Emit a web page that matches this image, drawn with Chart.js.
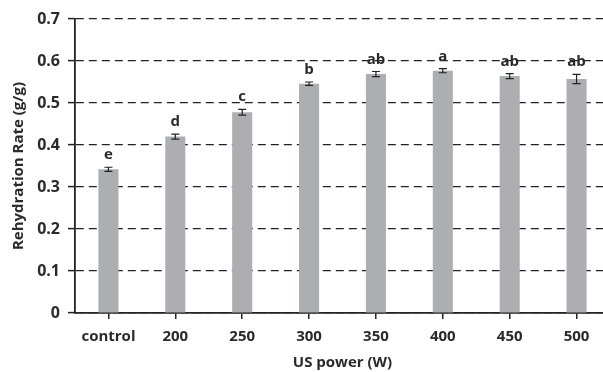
<!DOCTYPE html>
<html><head><meta charset="utf-8">
<script src="https://cdn.jsdelivr.net/npm/chart.js@4/dist/chart.umd.min.js"></script>
<style>html,body{margin:0;padding:0;background:#fff;overflow:hidden;width:603px;height:372px}#wrap{width:612px;height:372px;position:relative}</style>
</head><body><div id="wrap"><canvas id="c" width="612" height="372"></canvas></div>
<script>
const categories = ["control","200","250","300","350","400","450","500"];
const rehydration = [0.342,0.420,0.478,0.546,0.569,0.577,0.564,0.557];
const errors = [0.005,0.006,0.007,0.004,0.006,0.005,0.006,0.011];
const letters = ["e","d","c","b","ab","a","ab","ab"];
const yTicks = [0,0.1,0.2,0.3,0.4,0.5,0.6,0.7];

const FONT = "'Open Sans', 'DejaVu Sans', sans-serif";
const TXT = "#2a2a2a";

const errPlugin = {
  id: 'errLetters',
  afterDatasetsDraw(chart) {
    const ctx = chart.ctx, x = chart.scales.x, y = chart.scales.y;
    ctx.save();
    rehydration.forEach((v, i) => {
      const cx = x.getPixelForValue(i);
      const top = y.getPixelForValue(v + errors[i]);
      const bot = y.getPixelForValue(v - errors[i]);
      ctx.strokeStyle = "#222"; ctx.lineWidth = 1.2;
      ctx.beginPath();
      ctx.moveTo(cx, top); ctx.lineTo(cx, bot);
      ctx.moveTo(cx - 4, top); ctx.lineTo(cx + 4, top);
      ctx.moveTo(cx - 4, bot); ctx.lineTo(cx + 4, bot);
      ctx.stroke();
      ctx.fillStyle = TXT;
      ctx.font = "bold 15px " + FONT;
      ctx.textAlign = "center"; ctx.textBaseline = "alphabetic";
      ctx.fillText(letters[i], cx, top - 8);
    });
    ctx.restore();
  }
};

new Chart(document.getElementById('c'), {
  type: 'bar',
  data: { labels: categories, datasets: [{ data: rehydration, backgroundColor: '#adaeb1', borderWidth: 0, barPercentage: 0.3, categoryPercentage: 1.0 }] },
  options: {
    responsive: false, animation: false, devicePixelRatio: 1,
    layout: { padding: { top: 19, right: 2, left: 0, bottom: 0 } },
    plugins: { legend: { display: false }, tooltip: { enabled: false } },
    scales: {
      x: {
        offset: true,
        grid: { offset: false, drawOnChartArea: false, drawTicks: true, tickLength: 6, color: '#222', lineWidth: 1.5 },
        border: { display: true, color: '#222', width: 1.8 },
        ticks: { color: TXT, font: { family: FONT, size: 15, weight: 'bold' }, padding: 9, maxRotation: 0 },
        title: { display: true, text: 'US power (W)', color: TXT, font: { family: FONT, size: 15, weight: 'bold' }, padding: { top: 4, bottom: 0 } },
        afterFit(s) { s.height = 59; }
      },
      y: {
        min: 0, max: 0.7,
        afterBuildTicks(s) { s.ticks = yTicks.map(v => ({ value: v })); },
        grid: { color: '#222', lineWidth: 1.2, drawTicks: true, tickLength: 7, tickColor: '#222', tickWidth: 1.5 },
        border: { display: true, color: '#222', width: 1.8, dash: [8, 5] },
        ticks: { color: TXT, font: { family: FONT, size: 16, weight: 'bold' }, padding: 8, callback: v => v === 0 ? '0' : v.toFixed(1) },
        title: { display: true, text: 'Rehydration Rate (g/g)', color: TXT, font: { family: FONT, size: 15, weight: 'bold' }, padding: { top: 10, bottom: 4 } },
        afterFit(s) { s.width = 75; }
      }
    }
  },
  plugins: [errPlugin]
});
</script></body></html>
